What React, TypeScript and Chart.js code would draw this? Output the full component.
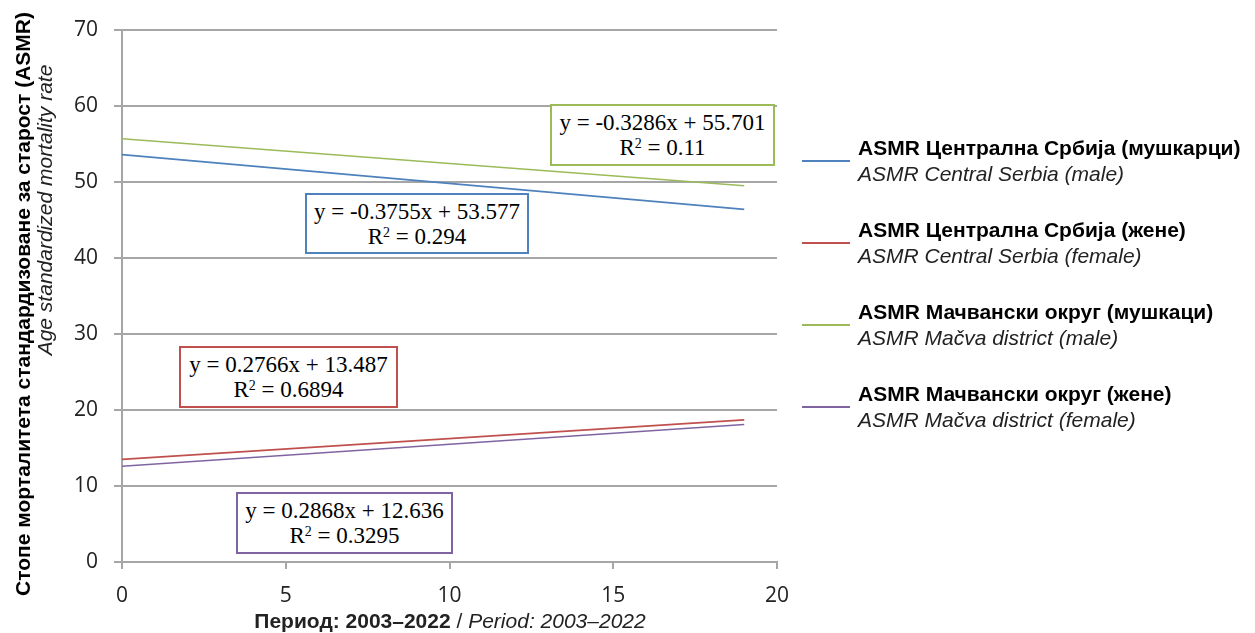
import React, { useEffect, useRef } from "react";
import { Chart, registerables } from "chart.js";

Chart.register(...registerables);

// ---- data ----
const X_VALUES = [0, 19];
const CS_MALE = [53.6, 46.4];
const CS_FEMALE = [13.5, 18.7];
const MACVA_MALE = [55.7, 49.5];
const MACVA_FEMALE = [12.6, 18.1];

const SERIES_LABELS_SR = [
  "ASMR Централна Србија (мушкарци)",
  "ASMR Централна Србија (жене)",
  "ASMR Мачвански округ (мушкаци)",
  "ASMR Мачвански округ (жене)",
];
const SERIES_LABELS_EN = [
  "ASMR Central Serbia (male)",
  "ASMR Central Serbia (female)",
  "ASMR Mačva district (male)",
  "ASMR Mačva district (female)",
];
const SERIES_COLORS = ["#4f81bd", "#c0504d", "#9bbb59", "#8064a2"];
const SERIES_VALUES = [CS_MALE, CS_FEMALE, MACVA_MALE, MACVA_FEMALE];

const EQUATIONS = [
  "y = -0.3755x + 53.577",
  "y = 0.2766x + 13.487",
  "y = -0.3286x + 55.701",
  "y = 0.2868x + 12.636",
];
const R_VALUES = ["0.294", "0.6894", "0.11", "0.3295"];

// box layout (page px): left, top, width, height
const EQ_BOXES = [
  [305, 193, 224, 61],
  [179, 346, 219, 62],
  [550, 104, 225, 62],
  [236, 492, 217, 62],
];

const X_TICKS = { min: 0, max: 20, step: 5 };
const Y_TICKS = { min: 0, max: 70, step: 10 };

const GRID = "#a6a6a6";
const TICK_FONT = { family: "'Open Sans', 'DejaVu Sans', sans-serif", size: 21 };
const SANS = "'Liberation Sans', Arial, sans-serif";

export default function App() {
  const ref = useRef<HTMLCanvasElement | null>(null);

  useEffect(() => {
    if (!ref.current) return;
    const chart = new Chart(ref.current, {
      type: "line",
      data: {
        datasets: SERIES_VALUES.map((vals, i) => ({
          label: SERIES_LABELS_SR[i],
          data: X_VALUES.map((x, j) => ({ x, y: vals[j] })),
          borderColor: SERIES_COLORS[i],
          backgroundColor: SERIES_COLORS[i],
          borderWidth: 1.6,
          pointRadius: 0,
          tension: 0,
          fill: false,
        })),
      },
      options: {
        animation: false,
        responsive: false,
        maintainAspectRatio: false,
        layout: { padding: { top: 30, right: 478, bottom: 0, left: 0 } },
        plugins: { legend: { display: false }, tooltip: { enabled: false } },
        scales: {
          x: {
            type: "linear",
            min: X_TICKS.min,
            max: X_TICKS.max,
            ticks: { stepSize: X_TICKS.step, font: TICK_FONT, color: "#222", padding: 14 },
            grid: { drawOnChartArea: false, color: GRID, lineWidth: 2, tickLength: 7 },
            border: { color: GRID, width: 2 },
            afterFit: (s: any) => {
              s.height = 71;
            },
          },
          y: {
            min: Y_TICKS.min,
            max: Y_TICKS.max,
            ticks: { stepSize: Y_TICKS.step, font: TICK_FONT, color: "#222", padding: 16 },
            grid: { color: GRID, lineWidth: 2, tickLength: 8 },
            border: { color: GRID, width: 2 },
            afterFit: (s: any) => {
              s.width = 122;
            },
          },
        },
      },
    });
    return () => chart.destroy();
  }, []);

  return (
    <div
      style={{
        position: "fixed",
        left: 0,
        top: 0,
        width: 1255,
        height: 633,
        background: "#fff",
        fontFamily: SANS,
        overflow: "hidden",
      }}
    >
      <canvas ref={ref} width={1255} height={633} style={{ position: "absolute", left: 0, top: 0 }} />

      {/* y axis title */}
      <div
        style={{
          position: "absolute",
          left: 23,
          top: 304,
          transform: "translate(-50%, -50%) rotate(-90deg)",
          whiteSpace: "nowrap",
          fontWeight: "bold",
          fontSize: 21,
          color: "#000",
        }}
      >
        Стопе морталитета стандардизоване за старост (ASMR)
      </div>
      <div
        style={{
          position: "absolute",
          left: 45,
          top: 210,
          transform: "translate(-50%, -50%) rotate(-90deg)",
          whiteSpace: "nowrap",
          fontStyle: "italic",
          fontSize: 21,
          color: "#222",
        }}
      >
        Age standardized mortality rate
      </div>

      {/* x axis title */}
      <div
        style={{
          position: "absolute",
          left: 450,
          top: 621,
          transform: "translate(-50%, -50%)",
          whiteSpace: "nowrap",
          fontSize: 21,
          color: "#222",
        }}
      >
        <b>Период: 2003–2022</b> / <i>Period: 2003–2022</i>
      </div>

      {/* equation boxes */}
      {EQ_BOXES.map((b, i) => (
        <div
          key={i}
          style={{
            position: "absolute",
            left: b[0],
            top: b[1],
            width: b[2],
            height: b[3],
            boxSizing: "border-box",
            border: `2px solid ${SERIES_COLORS[i]}`,
            background: "#fff",
            display: "flex",
            flexDirection: "column",
            justifyContent: "center",
            alignItems: "center",
            fontFamily: "'Liberation Serif', 'Times New Roman', serif",
            fontSize: 23,
            lineHeight: "25px",
            color: "#000",
            whiteSpace: "nowrap",
          }}
        >
          <div>{EQUATIONS[i]}</div>
          <div>
            R<sup style={{ fontSize: 14, verticalAlign: "7px", lineHeight: 0 }}>2</sup> = {R_VALUES[i]}
          </div>
        </div>
      ))}

      {/* legend */}
      {SERIES_LABELS_SR.map((lab, i) => {
        const y0 = 148 + i * 82;
        return (
          <React.Fragment key={i}>
            <div
              style={{
                position: "absolute",
                left: 802,
                top: y0 + 12,
                width: 48,
                height: 2,
                background: SERIES_COLORS[i],
              }}
            />
            <div
              style={{
                position: "absolute",
                left: 858,
                top: y0 - 13,
                fontWeight: "bold",
                fontSize: 21,
                lineHeight: "26px",
                color: "#000",
                whiteSpace: "nowrap",
              }}
            >
              {lab}
            </div>
            <div
              style={{
                position: "absolute",
                left: 858,
                top: y0 + 13,
                fontStyle: "italic",
                fontSize: 21,
                lineHeight: "26px",
                color: "#222",
                whiteSpace: "nowrap",
              }}
            >
              {SERIES_LABELS_EN[i]}
            </div>
          </React.Fragment>
        );
      })}
    </div>
  );
}
